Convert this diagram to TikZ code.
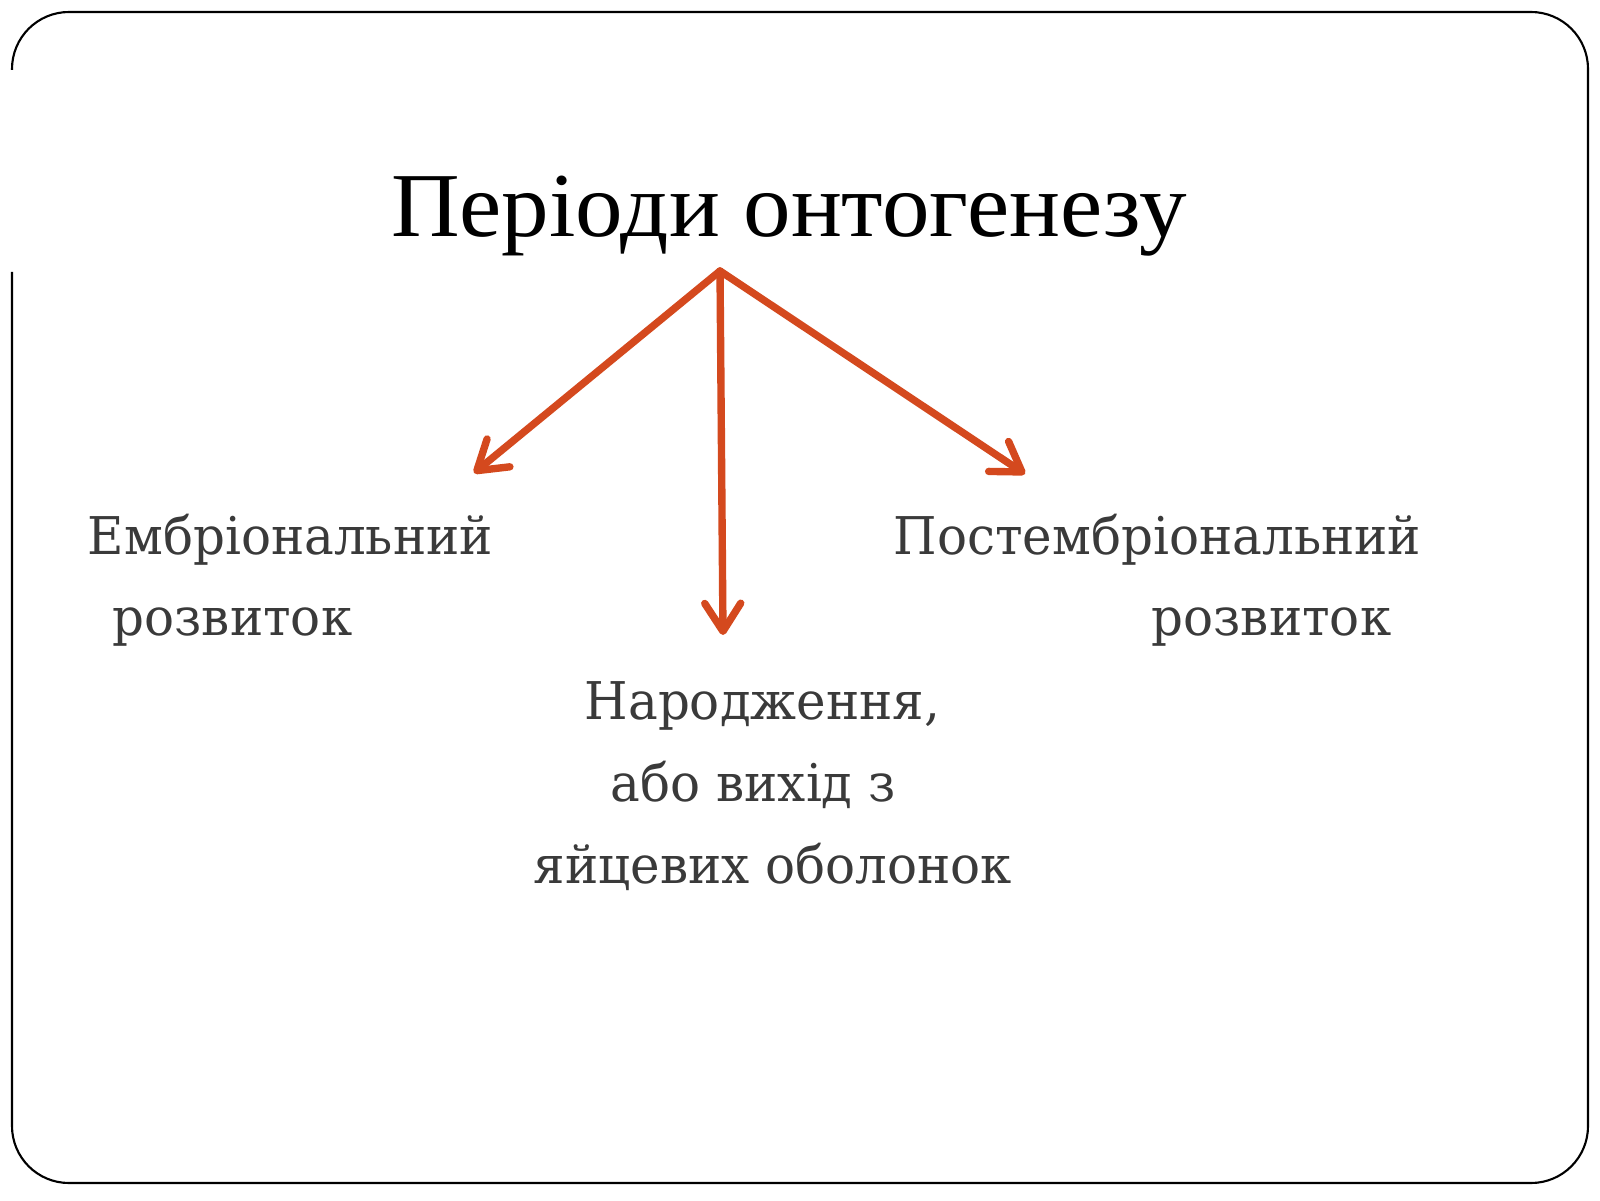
\documentclass[tikz,border=0pt]{standalone}
\usepackage{fontspec}
\setmainfont{DejaVu Serif}[FakeStretch=0.96]
\newfontfamily\titlefont{Liberation Serif}[FakeStretch=1.04]
\usetikzlibrary{arrows.meta}
\definecolor{arrowred}{RGB}{212,73,30}
\definecolor{bodygrey}{RGB}{58,58,58}
\tikzset{
  bodytext/.style={anchor=base west, inner sep=0pt, text=bodygrey, font=\fontsize{14.8}{18}\selectfont},
  titletext/.style={anchor=base, inner sep=0pt, text=black, font=\titlefont\fontsize{26}{30}\selectfont},
  pointer/.style={draw=arrowred, line width=2.1pt, line cap=round, line join=round,
    -{Straight Barb[length=2.8mm, width=3.6mm, line cap=round, line join=round]}},
  frame/.style={draw=black, line width=0.6pt, rounded corners=0.57cm}
}
\begin{document}
\begin{tikzpicture}[x=1cm,y=1cm]
\useasboundingbox (0,0) rectangle (16,12);
% slide frame with gap on left edge
\draw[frame] (0.12,9.28) -- (0.12,0.17) -- (15.88,0.17) -- (15.88,11.88) -- (0.12,11.88) -- (0.12,11.30);
% title
\node[titletext] (title) at (7.89,9.63) {Періоди онтогенезу};
% arrows
\coordinate (apex) at (7.20,9.29);
\coordinate (lefttip) at (4.74,7.27);
\coordinate (midtip) at (7.23,5.65);
\coordinate (righttip) at (10.25,7.26);
\draw[pointer] (apex) -- (lefttip);
\draw[pointer] (apex) -- (midtip);
\draw[pointer] (apex) -- (righttip);
% labels
\node[bodytext] (emb1) at (0.87,6.46) {Ембріональний};
\node[bodytext] (emb2) at (1.12,5.65) {розвиток};
\node[bodytext] (post1) at (8.93,6.46) {Постембріональний};
\node[bodytext] (post2) at (11.51,5.65) {розвиток};
\node[bodytext] (birth1) at (5.84,4.81) {Народження,};
\node[bodytext] (birth2) at (6.10,3.99) {або вихід з};
\node[bodytext] (birth3) at (5.33,3.17) {яйцевих оболонок};
\end{tikzpicture}
\end{document}
